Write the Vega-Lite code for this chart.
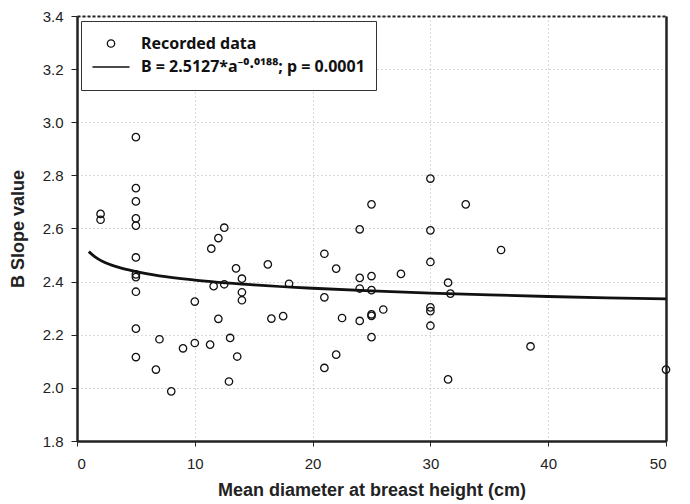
{
  "$schema": "https://vega.github.io/schema/vega-lite/v6.json",
  "width": 589,
  "height": 425,
  "autosize": {"type": "none"},
  "padding": {"left": 77, "top": 16, "right": 24, "bottom": 63},
  "background": "white",
  "datasets": {
    "points": [
      {"dbh": 2, "b": 2.655}, {"dbh": 2, "b": 2.633},
      {"dbh": 5, "b": 2.944}, {"dbh": 5, "b": 2.752}, {"dbh": 5, "b": 2.702}, {"dbh": 5, "b": 2.638}, {"dbh": 5, "b": 2.611},
      {"dbh": 5, "b": 2.491}, {"dbh": 5, "b": 2.427}, {"dbh": 5, "b": 2.417}, {"dbh": 5, "b": 2.362}, {"dbh": 5, "b": 2.223}, {"dbh": 5, "b": 2.116},
      {"dbh": 6.7, "b": 2.069}, {"dbh": 7, "b": 2.183}, {"dbh": 8, "b": 1.987}, {"dbh": 9, "b": 2.149},
      {"dbh": 10, "b": 2.325}, {"dbh": 10, "b": 2.169}, {"dbh": 11.3, "b": 2.163}, {"dbh": 11.4, "b": 2.524}, {"dbh": 11.6, "b": 2.383},
      {"dbh": 12, "b": 2.564}, {"dbh": 12, "b": 2.26}, {"dbh": 12.5, "b": 2.603}, {"dbh": 12.5, "b": 2.39}, {"dbh": 12.9, "b": 2.024},
      {"dbh": 13, "b": 2.188}, {"dbh": 13.5, "b": 2.45}, {"dbh": 13.6, "b": 2.118}, {"dbh": 14, "b": 2.411}, {"dbh": 14, "b": 2.36}, {"dbh": 14, "b": 2.33},
      {"dbh": 16.2, "b": 2.465}, {"dbh": 16.5, "b": 2.261}, {"dbh": 17.5, "b": 2.27}, {"dbh": 18, "b": 2.392},
      {"dbh": 21, "b": 2.505}, {"dbh": 21, "b": 2.341}, {"dbh": 21, "b": 2.075}, {"dbh": 22, "b": 2.449}, {"dbh": 22, "b": 2.125}, {"dbh": 22.5, "b": 2.263},
      {"dbh": 24, "b": 2.597}, {"dbh": 24, "b": 2.414}, {"dbh": 24, "b": 2.374}, {"dbh": 24, "b": 2.252},
      {"dbh": 25, "b": 2.691}, {"dbh": 25, "b": 2.421}, {"dbh": 25, "b": 2.368}, {"dbh": 25, "b": 2.277}, {"dbh": 25, "b": 2.271}, {"dbh": 25, "b": 2.191},
      {"dbh": 26, "b": 2.295}, {"dbh": 27.5, "b": 2.429},
      {"dbh": 30, "b": 2.788}, {"dbh": 30, "b": 2.593}, {"dbh": 30, "b": 2.474}, {"dbh": 30, "b": 2.303}, {"dbh": 30, "b": 2.289}, {"dbh": 30, "b": 2.234},
      {"dbh": 31.5, "b": 2.396}, {"dbh": 31.7, "b": 2.355}, {"dbh": 31.5, "b": 2.032}, {"dbh": 33, "b": 2.691}, {"dbh": 36, "b": 2.519},
      {"dbh": 38.5, "b": 2.156}, {"dbh": 50, "b": 2.069}
    ],
    "curve": [
      {"dbh": 1, "b": 2.513}, {"dbh": 1.5, "b": 2.494}, {"dbh": 2, "b": 2.480}, {"dbh": 3, "b": 2.461}, {"dbh": 4, "b": 2.448},
      {"dbh": 5, "b": 2.438}, {"dbh": 7, "b": 2.422}, {"dbh": 10, "b": 2.406}, {"dbh": 15, "b": 2.388}, {"dbh": 20, "b": 2.375},
      {"dbh": 25, "b": 2.365}, {"dbh": 30, "b": 2.357}, {"dbh": 35, "b": 2.350}, {"dbh": 40, "b": 2.344}, {"dbh": 45, "b": 2.339}, {"dbh": 50, "b": 2.335}
    ]
  },
  "layer": [
    {
      "data": {"name": "points"},
      "mark": {"type": "point", "filled": false, "size": 55, "strokeWidth": 1.3, "color": "#111", "opacity": 1},
      "encoding": {
        "x": {
          "field": "dbh", "type": "quantitative",
          "scale": {"domain": [0, 50], "nice": false, "zero": false},
          "axis": {"values": [0, 10, 20, 30, 40, 50], "grid": true, "tickSize": 5, "labelPadding": 10, "title": "Mean diameter at breast height (cm)", "titlePadding": 10}
        },
        "y": {
          "field": "b", "type": "quantitative",
          "scale": {"domain": [1.8, 3.4], "nice": false, "zero": false},
          "axis": {"values": [1.8, 2.0, 2.2, 2.4, 2.6, 2.8, 3.0, 3.2, 3.4], "format": ".1f", "grid": true, "tickSize": 6, "labelPadding": 8, "title": "B Slope value", "titlePadding": 15}
        },
        "shape": {
          "datum": "Recorded data",
          "scale": {"domain": ["Recorded data", "B = 2.5127*a⁻⁰·⁰¹⁸⁸; p = 0.0001"], "range": ["circle", "M-5,0L5,0"]},
          "legend": {
            "title": null,
            "orient": "none",
            "legendX": 4,
            "legendY": 5,
            "padding": 11,
            "strokeColor": "#333",
            "fillColor": "white",
            "clipHeight": 23,
            "rowPadding": 0.5,
            "symbolOffset": 11,
            "labelOffset": 22,
            "symbolSize": 55,
            "symbolStrokeWidth": 1.3,
            "labelFont": "Noto Sans",
            "labelFontSize": 16,
            "labelFontWeight": "bold",
            "labelColor": "#111",
            "labelLimit": 500,
            "symbolStrokeColor": "#111",
            "encode": {
              "symbols": {
                "strokeWidth": {"value": {"expr": "datum.value === 'Recorded data' ? 1.3 : 2.6"}},
                "stroke": {"value": "#111"}
              }
            }
          }
        }
      }
    },
    {
      "data": {"name": "curve"},
      "mark": {"type": "line", "color": "#111", "strokeWidth": 2.8, "interpolate": "monotone"},
      "encoding": {
        "x": {
          "field": "dbh", "type": "quantitative",
          "scale": {"domain": [0, 50], "nice": false, "zero": false},
          "axis": {"orient": "top", "domainDash": [3, 2], "domainWidth": 2, "ticks": false, "labels": false, "grid": false, "title": null}
        },
        "y": {
          "field": "b", "type": "quantitative",
          "scale": {"domain": [1.8, 3.4], "nice": false, "zero": false},
          "axis": {"orient": "right", "domainWidth": 2.5, "ticks": false, "labels": false, "grid": false, "title": null}
        }
      }
    }
  ],
  "resolve": {"axis": {"x": "independent", "y": "independent"}},
  "config": {
    "font": "Liberation Sans",
    "view": {"stroke": null},
    "axis": {
      "labelFont": "Liberation Sans", "labelFontSize": 15, "labelColor": "#222",
      "titleFont": "Liberation Sans", "titleFontSize": 18, "titleFontWeight": "bold", "titleColor": "#222",
      "domainColor": "#222", "domainWidth": 2.5, "tickColor": "#222", "tickWidth": 1,
      "gridColor": "#b0b0b0", "gridDash": [1, 3], "gridWidth": 1
    }
  }
}
